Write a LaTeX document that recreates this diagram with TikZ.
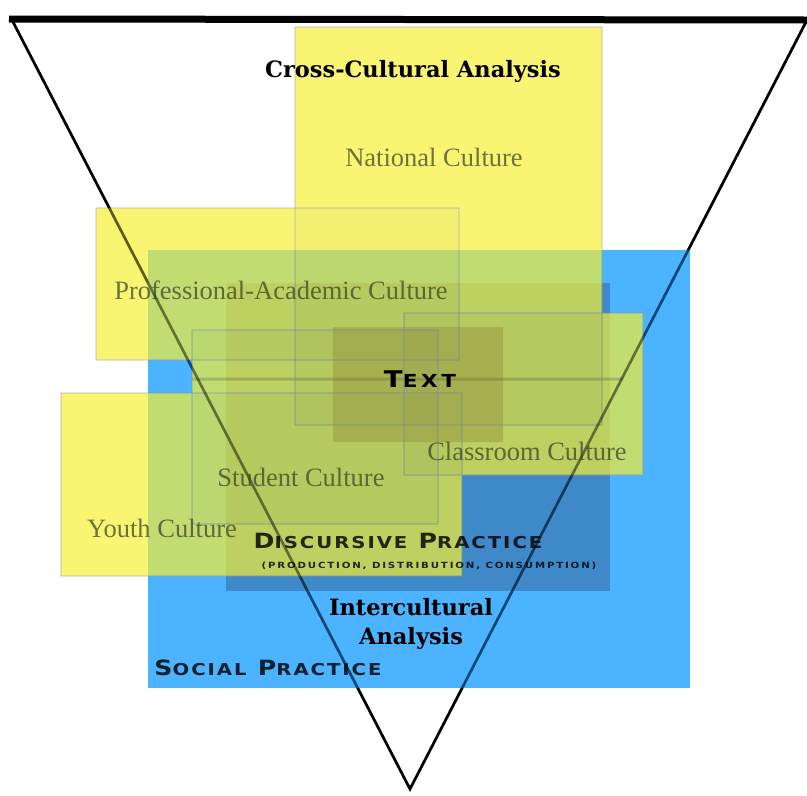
\documentclass[tikz,border=0pt]{standalone}
\usepackage{fontspec}
\usepackage{graphicx}
\setmainfont{Liberation Serif}
\newfontfamily\slab{DejaVu Serif}
\newfontfamily\plate{DejaVu Sans}[LetterSpace=10]
\newfontfamily\platesmall{DejaVu Sans}[LetterSpace=18]
\usetikzlibrary{calc}

\definecolor{socialblue}{RGB}{30,160,255}
\definecolor{discblue}{RGB}{40,60,100}
\definecolor{cultyellow}{RGB}{255,250,52}
\definecolor{textgold}{RGB}{185,150,0}
\definecolor{labelgray}{RGB}{60,62,40}

\newcommand{\smcap}[2]{#1\scalebox{0.78}{#2}}
\newcommand{\wide}[1]{\scalebox{1.2}[1]{#1}}
% x1/y1/x2/y2 : national, professional-academic, classroom, student, youth
\newcommand{\culturerects}{295/27/602/425, 96/208/459/360, 404/313/643/475, 192/330/438/524, 61/393/462/576}

\tikzset{
  triangle/.style={line width=2.6pt},
  cultureedge/.style={draw=black!45, line width=0.9pt},
  culturelabel/.style={font=\fontsize{26.5}{26.5}\selectfont, text=labelgray, text opacity=0.72, inner sep=0pt},
  platelabel/.style={text=black, text opacity=0.82, inner sep=0pt},
  slablabel/.style={font=\slab\bfseries\fontsize{22.5}{29}\selectfont, align=center, inner sep=0pt},
}

\begin{document}
\begin{tikzpicture}[x=1pt, y=-1pt]
  \useasboundingbox (0,0) rectangle (807,796);

  % the triangle
  \coordinate (tl) at (12,20);
  \coordinate (tr) at (807,20);
  \coordinate (bot) at (410,789);
  \draw[triangle] (tl) -- (bot) -- (tr);

  % practice layers
  \fill[socialblue, fill opacity=0.8] (148,250) rectangle (690,688);
  \fill[discblue, fill opacity=0.35] (226,283) rectangle (610,591);

  % cultures
  \begin{scope}[transparency group, opacity=0.69]
    \foreach \xa/\ya/\xb/\yb in \culturerects
      \fill[cultyellow] (\xa,\ya) rectangle (\xb,\yb);
    \foreach \xa/\ya/\xb/\yb in \culturerects
      \fill[black, fill opacity=0.035] (\xa,\ya) rectangle (\xb,\yb);
    \fill[textgold, fill opacity=0.45] (333,327) rectangle (503,442);
    \draw[textgold!70!black, opacity=0.4, line width=3pt] (192,379) -- (623,379);
    \foreach \xa/\ya/\xb/\yb in \culturerects
      \draw[cultureedge] (\xa,\ya) rectangle (\xb,\yb);
  \end{scope}

  \draw[triangle, opacity=0.45] (tl) -- (bot) -- (tr);
  \draw[line width=7pt] (9,19) -- (tr);

  % labels
  \node[slablabel] (cross) at (413,71) {Cross-Cultural Analysis};
  \node[culturelabel] (national) at (434,157) {National Culture};
  \node[culturelabel] (professional) at (281,290) {Professional-Academic Culture};
  \node[culturelabel] (classroom) at (527,451) {Classroom Culture};
  \node[culturelabel] (student) at (301,477) {Student Culture};
  \node[culturelabel] (youth) at (162,528) {Youth Culture};

  \node[platelabel, text opacity=1, font=\plate\bfseries\addfontfeature{LetterSpace=17}\fontsize{23}{23}\selectfont] (text) at (420,379) {\wide{\smcap{T}{EXT}}};
  \node[platelabel, font=\plate\bfseries\fontsize{21}{21}\selectfont] (discursive) at (398,541) {\wide{\smcap{D}{ISCURSIVE} \smcap{P}{RACTICE}}};
  \node[platelabel, font=\platesmall\bfseries\fontsize{8.5}{8.5}\selectfont] (modes) at (429,566) {\wide{(PRODUCTION, DISTRIBUTION, CONSUMPTION)}};
  \node[slablabel] (inter) at (411,624) {Intercultural\\Analysis};
  \node[platelabel, font=\plate\bfseries\fontsize{21}{21}\selectfont] (social) at (268,668) {\wide{\smcap{S}{OCIAL} \smcap{P}{RACTICE}}};
\end{tikzpicture}
\end{document}
